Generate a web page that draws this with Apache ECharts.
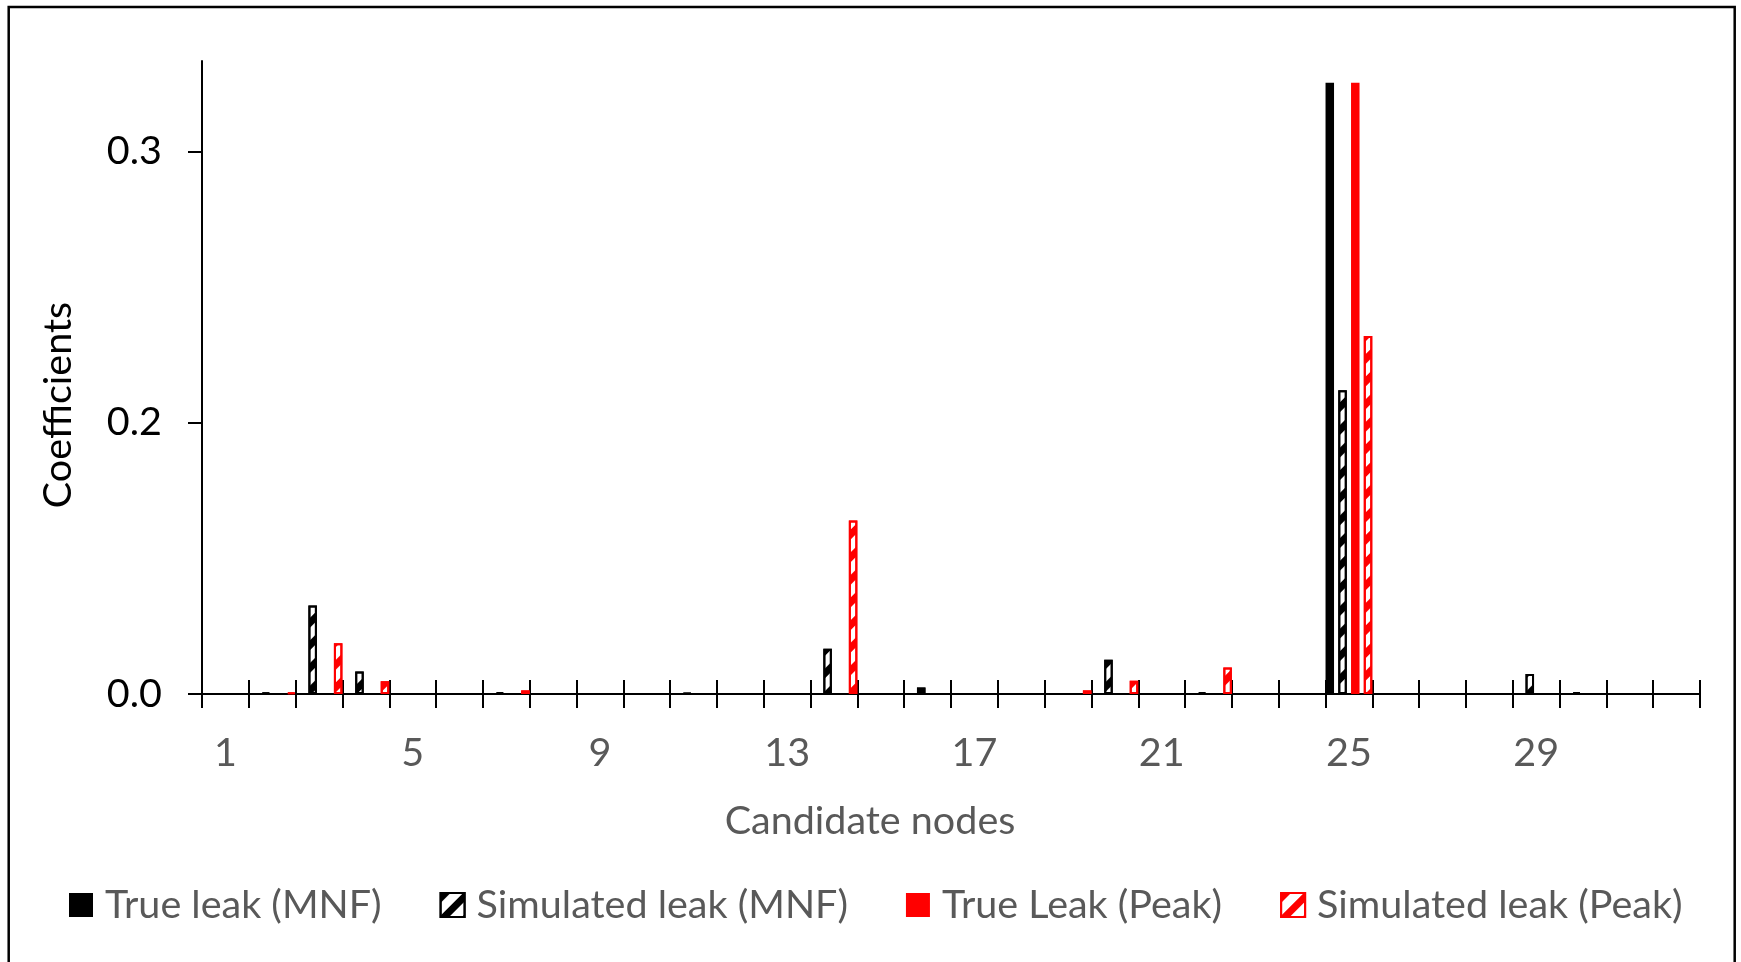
<!DOCTYPE html>
<html>
<head>
<meta charset="utf-8">
<title>Candidate nodes coefficients</title>
<script src="https://cdn.jsdelivr.net/npm/echarts@6/dist/echarts.min.js"></script>
<style>
  html, body { margin: 0; padding: 0; background: #fff; }
  #main { width: 1741px; height: 962px; }
</style>
</head>
<body>
<div id="main"></div>
<script>
// candidate nodes 1..32
var nodes = [];
for (var n = 1; n <= 32; n++) nodes.push(String(n));

// values (0 = no bar)
var trueMNF = [0, 0, 0, 0, 0, 0, 0, 0, 0, 0, 0, 0, 0, 0, 0, 0,
  0, 0, 0, 0, 0, 0, 0, 0, 0.338, 0, 0, 0, 0, 0, 0, 0];
var simMNF = [0, 0.0008, 0.049, 0.0125, 0, 0, 0.001, 0, 0, 0, 0.0005, 0, 0, 0.025, 0, 0.0036,
  0, 0, 0, 0.019, 0, 0.001, 0, 0, 0.168, 0, 0, 0, 0.011, 0.001, 0, 0];
var truePeak = [0, 0, 0, 0, 0, 0, 0, 0, 0, 0, 0, 0, 0, 0, 0, 0,
  0, 0, 0, 0, 0, 0, 0, 0, 0.338, 0, 0, 0, 0, 0, 0, 0];
var simPeak = [0, 0.0008, 0.028, 0.007, 0, 0, 0.002, 0, 0, 0, 0, 0, 0, 0.096, 0, 0,
  0, 0, 0.002, 0.0073, 0, 0.0147, 0, 0, 0.198, 0, 0, 0, 0, 0, 0, 0];

var yTickValues = [0, 0.15, 0.3];
var yTickLabels = ['0.0', '0.2', '0.3'];

var seriesNames = ['True leak (MNF)', 'Simulated leak (MNF)', 'True Leak (Peak)', 'Simulated leak (Peak)'];

var FONT = 'Lato';
var FS = 39.5;

function noZero(arr) {
  return arr.map(function (v) { return v === 0 ? null : v; });
}

function hatch(color) {
  return {
    color: color,
    symbol: 'rect',
    symbolSize: 1,
    dashArrayX: [1, 0],
    dashArrayY: [7, 9],
    rotation: -Math.PI / 4
  };
}

var myChart = echarts.init(document.getElementById('main'));

var option = {
  backgroundColor: '#fff',
  animation: false,
  grid: { left: 202, right: 41, top: 61, bottom: 268 },
  legend: {
    left: 64,
    top: 880,
    icon: 'rect',
    itemWidth: 24,
    itemHeight: 24,
    itemGap: 58,
    textStyle: { fontFamily: FONT, fontSize: FS, color: '#595959', padding: [0, 0, 0, 7] },
    data: seriesNames
  },
  xAxis: [{
    type: 'category',
    data: nodes,
    axisLine: { lineStyle: { color: '#000', width: 2 } },
    axisTick: { show: true, interval: 0, length: 14, lineStyle: { color: '#000', width: 2 } },
    axisLabel: { interval: 3, margin: 39, fontFamily: FONT, fontSize: FS, color: '#595959' }
  }, {
    // inner half of the crossing ticks
    type: 'category',
    data: nodes,
    position: 'bottom',
    axisLine: { show: false },
    axisTick: { show: true, inside: true, interval: 0, length: 14, lineStyle: { color: '#000', width: 2 } },
    axisLabel: { show: false }
  }],
  yAxis: {
    type: 'value',
    min: 0,
    max: 0.35,
    axisLine: { show: true, lineStyle: { color: '#000', width: 2 } },
    axisTick: { show: true, length: 14, customValues: yTickValues, lineStyle: { color: '#000', width: 2 } },
    splitLine: { show: false },
    axisLabel: {
      customValues: yTickValues,
      margin: 40,
      fontFamily: FONT,
      fontSize: FS,
      color: '#000',
      formatter: function (v) {
        var i = yTickValues.indexOf(v);
        return i >= 0 ? yTickLabels[i] : '';
      }
    }
  },
  graphic: [{
    type: 'rect',
    shape: { x: 8.7, y: 7, width: 1726, height: 1000 },
    style: { fill: 'none', stroke: '#000', lineWidth: 2.5 },
    silent: true
  }, {
    type: 'text',
    x: 58,
    y: 405,
    rotation: Math.PI / 2,
    style: { text: 'Coefficients', fontFamily: FONT, fontSize: FS, fill: '#000', align: 'center', verticalAlign: 'middle' }
  }, {
    type: 'text',
    x: 870,
    y: 821,
    style: { text: 'Candidate nodes', fontFamily: FONT, fontSize: FS, fill: '#595959', align: 'center', verticalAlign: 'middle' }
  }],
  series: [{
    name: seriesNames[0],
    type: 'bar',
    barWidth: 8.5,
    barGap: '50%',
    itemStyle: { color: '#000' },
    data: noZero(trueMNF)
  }, {
    name: seriesNames[1],
    type: 'bar',
    barWidth: 8.5,
    barGap: '50%',
    itemStyle: { color: '#fff', borderColor: '#000', borderWidth: 2, decal: hatch('#000') },
    data: noZero(simMNF)
  }, {
    name: seriesNames[2],
    type: 'bar',
    barWidth: 8.5,
    barGap: '50%',
    itemStyle: { color: '#ff0000' },
    data: noZero(truePeak)
  }, {
    name: seriesNames[3],
    type: 'bar',
    barWidth: 8.5,
    barGap: '50%',
    itemStyle: { color: '#fff', borderColor: '#ff0000', borderWidth: 2, decal: hatch('#ff0000') },
    data: noZero(simPeak)
  }]
};

myChart.setOption(option);
</script>
</body>
</html>
